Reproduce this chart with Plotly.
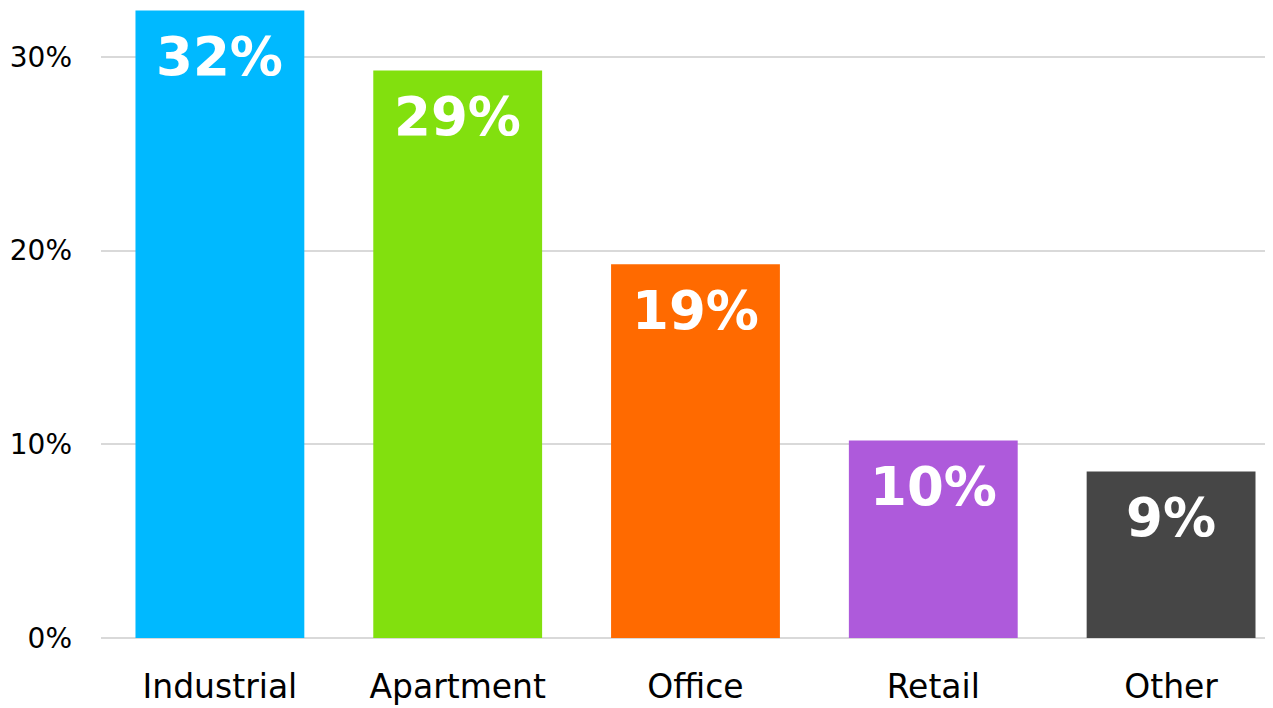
import plotly.graph_objects as go

categories = ["Industrial", "Apartment", "Office", "Retail", "Other"]
shares = [32.4, 29.3, 19.3, 10.2, 8.6]
colors = ["#00B9FF", "#82E00E", "#FF6A00", "#AE5ADB", "#464646"]
y_ticks = [0, 10, 20, 30]
y_tick_labels = ["0%", "10%", "20%", "30%"]

fig = go.Figure()
fig.add_trace(go.Bar(
    x=categories, y=shares, marker=dict(color=colors, line=dict(width=0)),
    width=0.71, hoverinfo="skip", showlegend=False,
))

for c, v in zip(categories, shares):
    fig.add_annotation(
        x=c, y=v, text=f"{round(v):.0f}%", showarrow=False,
        yanchor="top", yshift=-14,
        font=dict(family="DejaVu Sans", size=53, color="white", weight="bold"),
    )

fig.update_layout(
    width=1265, height=700,
    margin=dict(l=93, r=0, t=2, b=70),
    paper_bgcolor="white", plot_bgcolor="white",
    font=dict(family="DejaVu Sans", color="#000000"),
    xaxis=dict(
        range=[-0.5, 4.4286], showgrid=False, zeroline=False, showline=False,
        tickfont=dict(size=33), ticklabelstandoff=26,
    ),
    yaxis=dict(
        range=[0, 32.42], tickvals=y_ticks, ticktext=y_tick_labels,
        showgrid=True, gridcolor="#D9D9D9", gridwidth=2,
        zeroline=True, zerolinecolor="#D9D9D9", zerolinewidth=2,
        showline=False, tickfont=dict(size=28), ticklabelstandoff=28,
    ),
)

fig.write_html("out.html")
